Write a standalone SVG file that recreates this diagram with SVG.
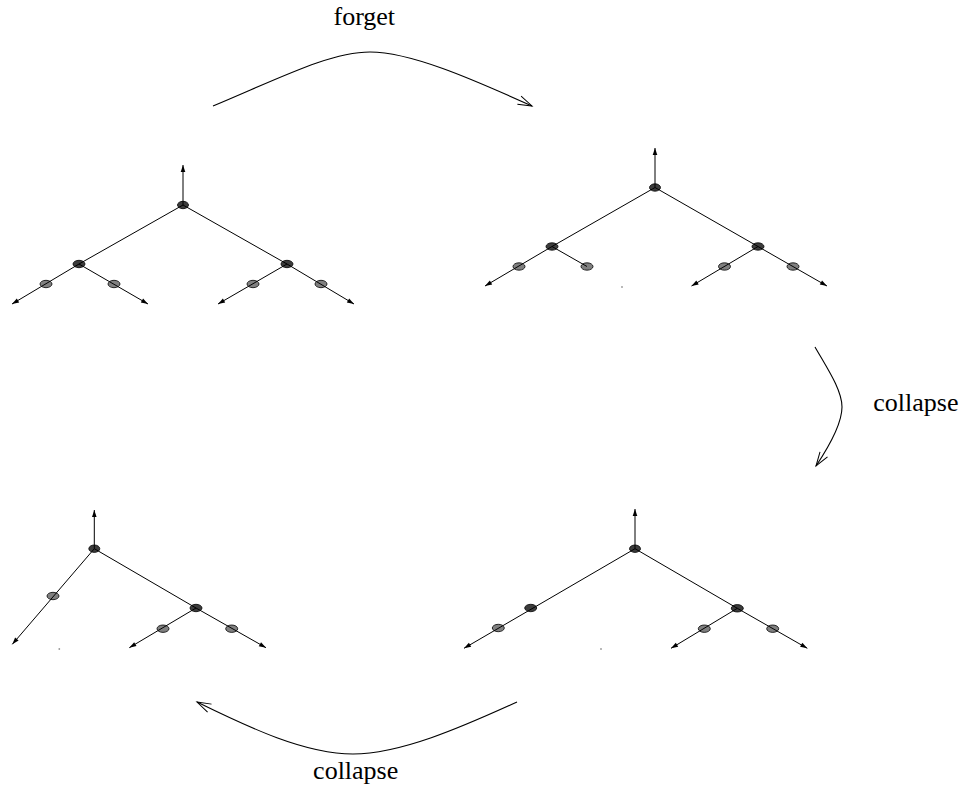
<svg xmlns="http://www.w3.org/2000/svg" width="964" height="792" viewBox="0 0 964 792">
<style>
.e{stroke:#000;stroke-width:1;fill:none}
.c{stroke:#000;stroke-width:1.1;fill:none}
.in{fill:#3c3c3c;stroke:#000;stroke-width:0.8}
.lf{fill:#808080;stroke:#000;stroke-width:0.8}
.dot{fill:#999}
.t{font-family:"Liberation Serif","Times New Roman",serif;font-size:26px;fill:#000}
</style>
<defs>
<marker id="ah" markerUnits="userSpaceOnUse" markerWidth="10" markerHeight="8" viewBox="-8 -4 10 8" refX="0" refY="0" orient="auto">
<path d="M0,0 L-7,-2.3 L-7,2.3 z" fill="#000"/>
</marker>
<marker id="oh" markerUnits="userSpaceOnUse" markerWidth="18" markerHeight="14" viewBox="-16 -7 18 14" refX="0" refY="0" orient="auto">
<path d="M-14,-4.5 L0,0 L-14,4.5" fill="none" stroke="#000" stroke-width="1"/>
</marker>
</defs>
<rect width="964" height="792" fill="#fff"/>

<g id="treeA">
<ellipse class="in" cx="183" cy="205" rx="5.5" ry="3.7"/>
<ellipse class="in" cx="79" cy="264" rx="6" ry="3.7"/>
<ellipse class="in" cx="287" cy="264" rx="6" ry="3.7"/>
<ellipse class="lf" cx="46" cy="284" rx="6" ry="3.7"/>
<ellipse class="lf" cx="114" cy="284" rx="6" ry="3.7"/>
<ellipse class="lf" cx="253" cy="284" rx="6" ry="3.7"/>
<ellipse class="lf" cx="321" cy="284" rx="6" ry="3.7"/>
</g>
<g id="treeB">
<ellipse class="in" cx="655" cy="187.5" rx="5.5" ry="3.7"/>
<ellipse class="in" cx="552" cy="246.5" rx="6" ry="3.7"/>
<ellipse class="in" cx="758" cy="246.5" rx="6" ry="3.7"/>
<ellipse class="lf" cx="519" cy="266.5" rx="6" ry="3.7"/>
<ellipse class="lf" cx="587" cy="266.5" rx="6" ry="3.7"/>
<ellipse class="lf" cx="724.5" cy="266.5" rx="6" ry="3.7"/>
<ellipse class="lf" cx="793" cy="266.5" rx="6" ry="3.7"/>
<circle class="dot" cx="622" cy="287" r="0.9"/>
</g>
<g id="treeC">
<ellipse class="in" cx="94.3" cy="548.7" rx="5.5" ry="3.7"/>
<ellipse class="lf" cx="53" cy="596" rx="6" ry="3.7"/>
<ellipse class="in" cx="196" cy="608" rx="6" ry="3.7"/>
<ellipse class="lf" cx="163" cy="628.7" rx="6" ry="3.7"/>
<ellipse class="lf" cx="231.7" cy="628.7" rx="6" ry="3.7"/>
<circle class="dot" cx="59.3" cy="649" r="0.9"/>
</g>
<g id="treeD">
<ellipse class="in" cx="635" cy="548.7" rx="5.5" ry="3.7"/>
<ellipse class="in" cx="530.7" cy="608" rx="6" ry="3.7"/>
<ellipse class="lf" cx="498.3" cy="628" rx="6" ry="3.7"/>
<ellipse class="in" cx="737.3" cy="608.3" rx="6" ry="3.7"/>
<ellipse class="lf" cx="704.3" cy="628.7" rx="6" ry="3.7"/>
<ellipse class="lf" cx="772.7" cy="628.7" rx="6" ry="3.7"/>
<circle class="dot" cx="601" cy="649" r="0.9"/>
</g>

<g id="connectors">
<!-- tree A -->
<line class="e" x1="183" y1="205" x2="183" y2="165" marker-end="url(#ah)"/>
<line class="e" x1="183" y1="205" x2="79" y2="264"/>
<line class="e" x1="183" y1="205" x2="287" y2="264"/>
<line class="e" x1="79" y1="264" x2="12" y2="304" marker-end="url(#ah)"/>
<line class="e" x1="79" y1="264" x2="148" y2="304" marker-end="url(#ah)"/>
<line class="e" x1="287" y1="264" x2="218" y2="304" marker-end="url(#ah)"/>
<line class="e" x1="287" y1="264" x2="354" y2="304" marker-end="url(#ah)"/>
<!-- tree B -->
<line class="e" x1="655" y1="187.5" x2="655" y2="148" marker-end="url(#ah)"/>
<line class="e" x1="655" y1="187.5" x2="552" y2="246.5"/>
<line class="e" x1="655" y1="187.5" x2="758" y2="246.5"/>
<line class="e" x1="552" y1="246.5" x2="485" y2="286" marker-end="url(#ah)"/>
<line class="e" x1="552" y1="246.5" x2="587" y2="266.5"/>
<line class="e" x1="758" y1="246.5" x2="691.5" y2="286" marker-end="url(#ah)"/>
<line class="e" x1="758" y1="246.5" x2="827" y2="286" marker-end="url(#ah)"/>
<!-- tree C -->
<line class="e" x1="94.3" y1="548.7" x2="94.3" y2="510" marker-end="url(#ah)"/>
<line class="e" x1="94.3" y1="548.7" x2="12.3" y2="644.3" marker-end="url(#ah)"/>
<line class="e" x1="94.3" y1="548.7" x2="196" y2="608"/>
<line class="e" x1="196" y1="608" x2="129.3" y2="647.7" marker-end="url(#ah)"/>
<line class="e" x1="196" y1="608" x2="266" y2="647.7" marker-end="url(#ah)"/>
<!-- tree D -->
<line class="e" x1="635" y1="548.7" x2="635" y2="509" marker-end="url(#ah)"/>
<line class="e" x1="635" y1="548.7" x2="464" y2="648.3" marker-end="url(#ah)"/>
<line class="e" x1="635" y1="548.7" x2="737.3" y2="608.3"/>
<line class="e" x1="737.3" y1="608.3" x2="671" y2="648.3" marker-end="url(#ah)"/>
<line class="e" x1="737.3" y1="608.3" x2="807.3" y2="648.3" marker-end="url(#ah)"/>
<!-- transformation arrows -->
<path class="c" d="M213,106 C280,78 330,52 370,52 C410,52 470,78 532,106" marker-end="url(#oh)"/>
<path class="c" d="M815,347 C827,368 842,390 842,407 C842,425 828,448 816,466" marker-end="url(#oh)"/>
<path class="c" d="M517,702 C460,728 400,754 353,754 C305,754 250,728 197,702" marker-end="url(#oh)"/>
</g>

<text class="t" x="364.3" y="25" text-anchor="middle">forget</text>
<text class="t" x="873.3" y="410.7">collapse</text>
<text class="t" x="355.7" y="779.3" text-anchor="middle">collapse</text>
</svg>
